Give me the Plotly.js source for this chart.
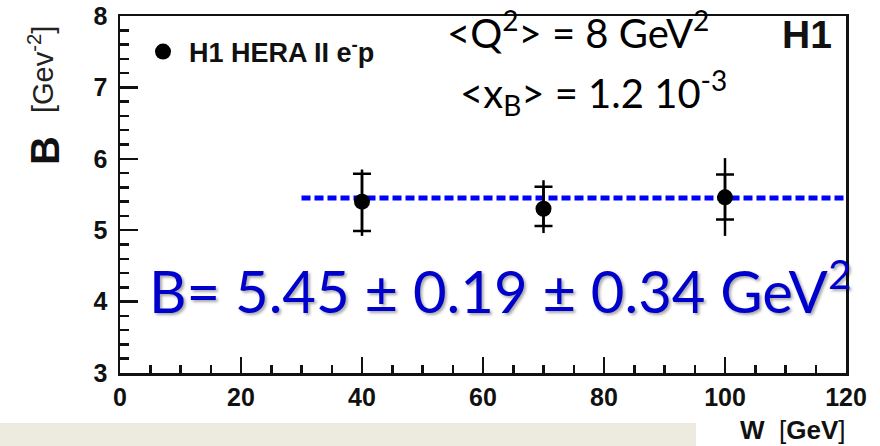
<!DOCTYPE html>
<html>
<head>
<meta charset="utf-8">
<script src="https://cdn.plot.ly/plotly-3.0.1.min.js"></script>
<style>
  html, body { margin: 0; padding: 0; background: #ffffff; }
  #chart { width: 880px; height: 446px; }
</style>
</head>
<body>
<div id="chart"></div>
<script>
// H1 HERA II e-p: slope parameter B versus W
const W = [40, 70, 100];
const B = [5.40, 5.30, 5.46];
const statUp = [0.39, 0.31, 0.32];
const statDown = [0.41, 0.24, 0.31];
const totUp = [0.45, 0.40, 0.55];
const totDown = [0.48, 0.34, 0.54];

// fitted constant
const fitB = 5.45;
const fitStat = 0.19;
const fitSys = 0.34;
const fitRange = [30, 120];

const xTicks = [0, 20, 40, 60, 80, 100, 120];
const yTicks = [3, 4, 5, 6, 7, 8];

// plot frame in pixels
const L = 120, R = 34, T = 16, Bm = 73;
const PW = 880 - L - R, PH = 446 - T - Bm;
const px = p => (p - L) / PW;
const py = p => (T + PH - p) / PH;

const sans = 'Liberation Sans, Arial, sans-serif';
const axisFont = { family: sans, size: 25, color: '#111', weight: 'bold' };

const traces = [
  {
    x: W, y: B, type: 'scatter', mode: 'markers',
    marker: { color: 'rgba(0,0,0,0)', size: 1 },
    error_y: { type: 'data', symmetric: false, array: statUp, arrayminus: statDown,
               color: '#000', thickness: 2.5, width: 9 },
    showlegend: false, hoverinfo: 'skip'
  },
  {
    x: fitRange, y: fitRange.map(() => fitB), type: 'scatter', mode: 'lines',
    line: { color: '#0000ff', width: 5, dash: '9px,4px' },
    showlegend: false
  },
  {
    x: W, y: B, type: 'scatter', mode: 'markers',
    name: 'H1 HERA II e<sup>-</sup>p',
    marker: { color: '#000', size: 16 },
    error_y: { type: 'data', symmetric: false, array: totUp, arrayminus: totDown,
               color: '#000', thickness: 2.5, width: 0 }
  }
];

const layout = {
  width: 880, height: 446,
  margin: { l: L, r: R, t: T, b: Bm, pad: 0 },
  paper_bgcolor: '#ffffff', plot_bgcolor: '#ffffff',
  showlegend: true,
  legend: {
    x: px(137), y: py(52), xanchor: 'left', yanchor: 'middle',
    bgcolor: 'rgba(0,0,0,0)', borderwidth: 0,
    font: { family: sans, size: 27, color: '#111', weight: 'bold' },
    itemwidth: 42
  },
  xaxis: {
    range: [0, 120], tickvals: xTicks, ticktext: xTicks.map(String),
    ticks: 'inside', ticklen: 16, tickwidth: 2.5, tickcolor: '#111',
    minor: { dtick: 5, ticks: 'inside', ticklen: 8, tickwidth: 2.5, tickcolor: '#111' },
    showline: true, linecolor: '#111', linewidth: 2.5, mirror: true,
    showgrid: false, zeroline: false, tickfont: axisFont, fixedrange: true
  },
  yaxis: {
    range: [3, 8], tickvals: yTicks, ticktext: yTicks.map(String),
    ticks: 'inside', ticklen: 18, tickwidth: 2.5, tickcolor: '#111',
    minor: { dtick: 0.2, ticks: 'inside', ticklen: 9, tickwidth: 2.5, tickcolor: '#111' },
    showline: true, linecolor: '#111', linewidth: 2.5, mirror: true,
    showgrid: false, zeroline: false, tickfont: axisFont, fixedrange: true,
    ticklabelstandoff: 5
  },
  shapes: [
    { type: 'rect', xref: 'paper', yref: 'paper', layer: 'below',
      x0: px(0), x1: px(696), y0: py(423), y1: py(446),
      fillcolor: '#edeae0', line: { width: 0 } }
  ],
  annotations: [
    { xref: 'paper', yref: 'paper', x: px(45), y: py(151), xanchor: 'center', yanchor: 'middle',
      text: '<b>B</b>', textangle: -90, showarrow: false,
      font: { family: sans, size: 40, color: '#111' } },
    { xref: 'paper', yref: 'paper', x: px(41), y: py(70), xanchor: 'center', yanchor: 'middle',
      text: '[Gev<sup>-2</sup>]', textangle: -90, showarrow: false,
      font: { family: sans, size: 29, color: '#222' } },
    { xref: 'paper', yref: 'paper', x: px(847), y: py(430), xanchor: 'right', yanchor: 'middle',
      text: '<b>W</b>  [<b>GeV</b>]', showarrow: false,
      font: { family: sans, size: 26, color: '#111' } },
    { xref: 'paper', yref: 'paper', x: px(834), y: py(34), xanchor: 'right', yanchor: 'middle',
      text: '<b>H1</b>', showarrow: false,
      font: { family: sans, size: 39, color: '#111' } },
    { xref: 'paper', yref: 'paper', x: px(445), y: py(30), xanchor: 'left', yanchor: 'middle',
      text: '&lt;Q<sup>2</sup>&gt; = 8 GeV<sup>2</sup>', showarrow: false,
      font: { family: 'Lato, sans-serif', size: 40, color: '#000' } },
    { xref: 'paper', yref: 'paper', x: px(458), y: py(92), xanchor: 'left', yanchor: 'middle',
      text: '&lt;x<sub>B</sub>&gt; = 1.2 10<sup>-3</sup>', showarrow: false,
      font: { family: 'Lato, sans-serif', size: 40, color: '#000' } },
    { xref: 'paper', yref: 'paper', x: px(147), y: py(287), xanchor: 'left', yanchor: 'middle',
      text: 'B= ' + fitB.toFixed(2) + ' \u00b1 ' + fitStat.toFixed(2) + ' \u00b1 ' + fitSys.toFixed(2) + ' GeV<sup>2</sup>',
      showarrow: false,
      font: { family: 'Lato, sans-serif', size: 58, color: '#0000cc',
              shadow: '2px 2px 3px rgba(0,0,0,0.35)' } }
  ]
};

Plotly.newPlot('chart', traces, layout, { staticPlot: true, displayModeBar: false });
</script>
</body>
</html>
